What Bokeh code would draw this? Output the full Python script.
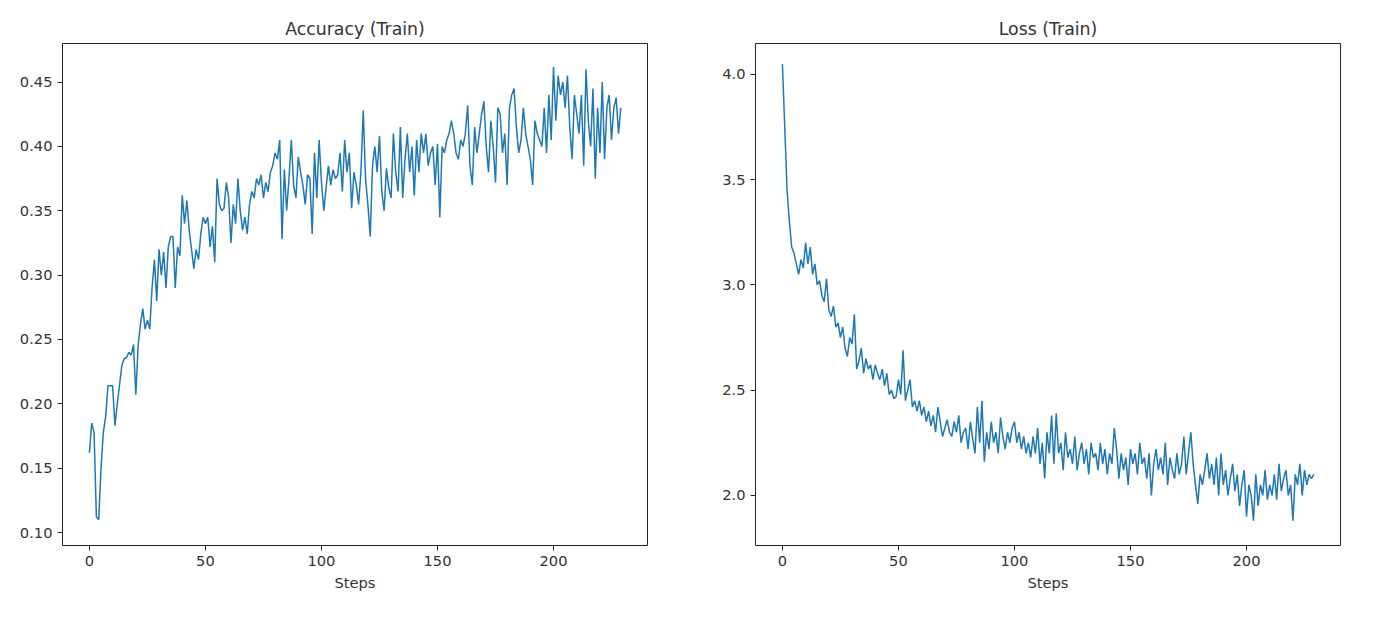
from bokeh.plotting import figure
from bokeh.layouts import row
from bokeh.models import Range1d, SingleIntervalTicker, PrintfTickFormatter
from bokeh.embed import file_html
from bokeh.resources import INLINE

acc = [.162,.185,.178,.112,.110,.150,.178,.190,.214,.214,
.214,.183,.200,.215,.230,.235,.236,.240,.238,.246,
.207,.245,.262,.274,.258,.265,.258,.290,.312,.280,
.320,.300,.318,.290,.322,.330,.330,.290,.322,.315,
.362,.340,.358,.335,.320,.305,.320,.312,.332,.345,
.340,.345,.322,.338,.310,.375,.355,.350,.352,.372,
.360,.325,.355,.340,.375,.350,.335,.345,.332,.355,
.365,.360,.375,.370,.378,.360,.372,.365,.380,.385,
.395,.390,.405,.328,.382,.350,.375,.405,.370,.360,
.392,.380,.370,.355,.378,.375,.332,.395,.360,.405,
.372,.350,.368,.385,.370,.382,.375,.378,.395,.365,
.405,.380,.395,.352,.380,.370,.355,.380,.428,.375,
.355,.330,.385,.400,.380,.408,.365,.350,.383,.368,
.360,.410,.380,.365,.415,.360,.390,.410,.380,.400,
.362,.405,.380,.410,.395,.410,.385,.395,.400,.370,
.402,.345,.400,.395,.405,.410,.420,.410,.395,.390,
.405,.400,.410,.432,.385,.370,.415,.395,.410,.425,
.435,.400,.380,.420,.400,.372,.430,.425,.395,.410,
.370,.430,.440,.445,.415,.395,.405,.430,.410,.400,
.390,.370,.420,.410,.405,.400,.430,.395,.440,.405,
.462,.420,.455,.440,.450,.430,.455,.415,.390,.440,
.425,.410,.440,.385,.460,.420,.400,.445,.375,.430,
.395,.450,.390,.430,.440,.405,.430,.438,.410,.430]

loss = [4.05,3.75,3.45,3.30,3.18,3.15,3.10,3.05,3.12,3.08,
3.20,3.10,3.18,3.05,3.10,3.00,3.02,2.95,2.92,3.03,
2.88,2.85,2.90,2.80,2.82,2.75,2.80,2.70,2.66,2.75,
2.72,2.86,2.60,2.64,2.70,2.58,2.65,2.60,2.62,2.55,
2.62,2.58,2.55,2.60,2.52,2.58,2.48,2.50,2.46,2.47,
2.55,2.48,2.69,2.45,2.50,2.55,2.42,2.45,2.40,2.45,
2.38,2.42,2.35,2.40,2.33,2.38,2.30,2.42,2.35,2.28,
2.32,2.36,2.30,2.28,2.35,2.30,2.38,2.25,2.30,2.32,
2.22,2.35,2.27,2.20,2.42,2.25,2.45,2.16,2.30,2.22,
2.35,2.25,2.30,2.20,2.37,2.28,2.22,2.30,2.25,2.32,
2.35,2.25,2.30,2.22,2.28,2.20,2.25,2.18,2.28,2.20,
2.32,2.15,2.25,2.08,2.30,2.20,2.38,2.15,2.39,2.20,
2.25,2.12,2.30,2.18,2.22,2.15,2.28,2.12,2.20,2.25,
2.15,2.22,2.10,2.25,2.18,2.20,2.12,2.25,2.15,2.22,
2.10,2.20,2.15,2.32,2.22,2.08,2.20,2.12,2.18,2.05,
2.22,2.15,2.20,2.10,2.25,2.15,2.18,2.08,2.20,2.00,
2.15,2.22,2.12,2.18,2.10,2.25,2.05,2.18,2.12,2.08,
2.20,2.10,2.15,2.28,2.10,2.20,2.30,2.15,2.05,1.96,
2.10,2.05,2.12,2.20,2.08,2.15,2.05,2.18,2.00,2.20,
2.05,2.12,2.00,2.08,2.15,2.02,2.10,1.95,2.05,2.12,
1.90,2.05,2.00,1.88,2.10,1.95,2.05,2.00,2.12,1.98,
2.05,2.00,2.10,1.98,2.15,2.02,2.08,2.12,2.00,2.05,
1.88,2.10,2.05,2.15,2.00,2.12,2.05,2.10,2.08,2.10]

steps = list(range(len(acc)))
TXT = "#333333"

def make(title, ys, yr, yint, bl, br):
    p = figure(width=bl + 585 + br, height=610, output_backend="svg", toolbar_location=None,
               x_range=Range1d(-11.6, 240.5), y_range=Range1d(*yr),
               min_border_left=bl, min_border_right=br, min_border_top=43, min_border_bottom=65)
    p.title.text = title
    p.title.align = "center"
    p.title.text_font = "DejaVu Sans"
    p.title.text_font_style = "normal"
    p.title.text_font_size = "13pt"
    p.title.text_color = TXT
    p.line(steps, ys, line_color="#1f77b4", line_width=1.5)
    p.xgrid.visible = False
    p.ygrid.visible = False
    p.outline_line_color = "#222222"
    p.xaxis.ticker = SingleIntervalTicker(interval=50)
    p.yaxis.ticker = SingleIntervalTicker(interval=yint)
    p.xaxis.axis_label = "Steps"
    for ax in (p.xaxis, p.yaxis):
        ax.axis_label_text_font = "DejaVu Sans"
        ax.axis_label_text_font_style = "normal"
        ax.axis_label_text_font_size = "11pt"
        ax.axis_label_text_color = TXT
        ax.major_label_text_font = "DejaVu Sans"
        ax.major_label_text_font_size = "11pt"
        ax.major_label_text_color = TXT
        ax.minor_tick_line_color = None
        ax.axis_line_color = None
        ax.major_tick_out = 5
        ax.major_tick_in = 0
        ax.major_tick_line_color = "#222222"
    return p

p1 = make("Accuracy (Train)", acc, (0.0899, 0.480), 0.05, 62, 43)
p2 = make("Loss (Train)", loss, (1.762, 4.147), 0.5, 65, 33)
p2.yaxis.formatter = PrintfTickFormatter(format="%.1f")
p1.yaxis.formatter = PrintfTickFormatter(format="%.2f")

p = row(p1, p2)
open("out.html", "w").write(file_html(p, INLINE))
